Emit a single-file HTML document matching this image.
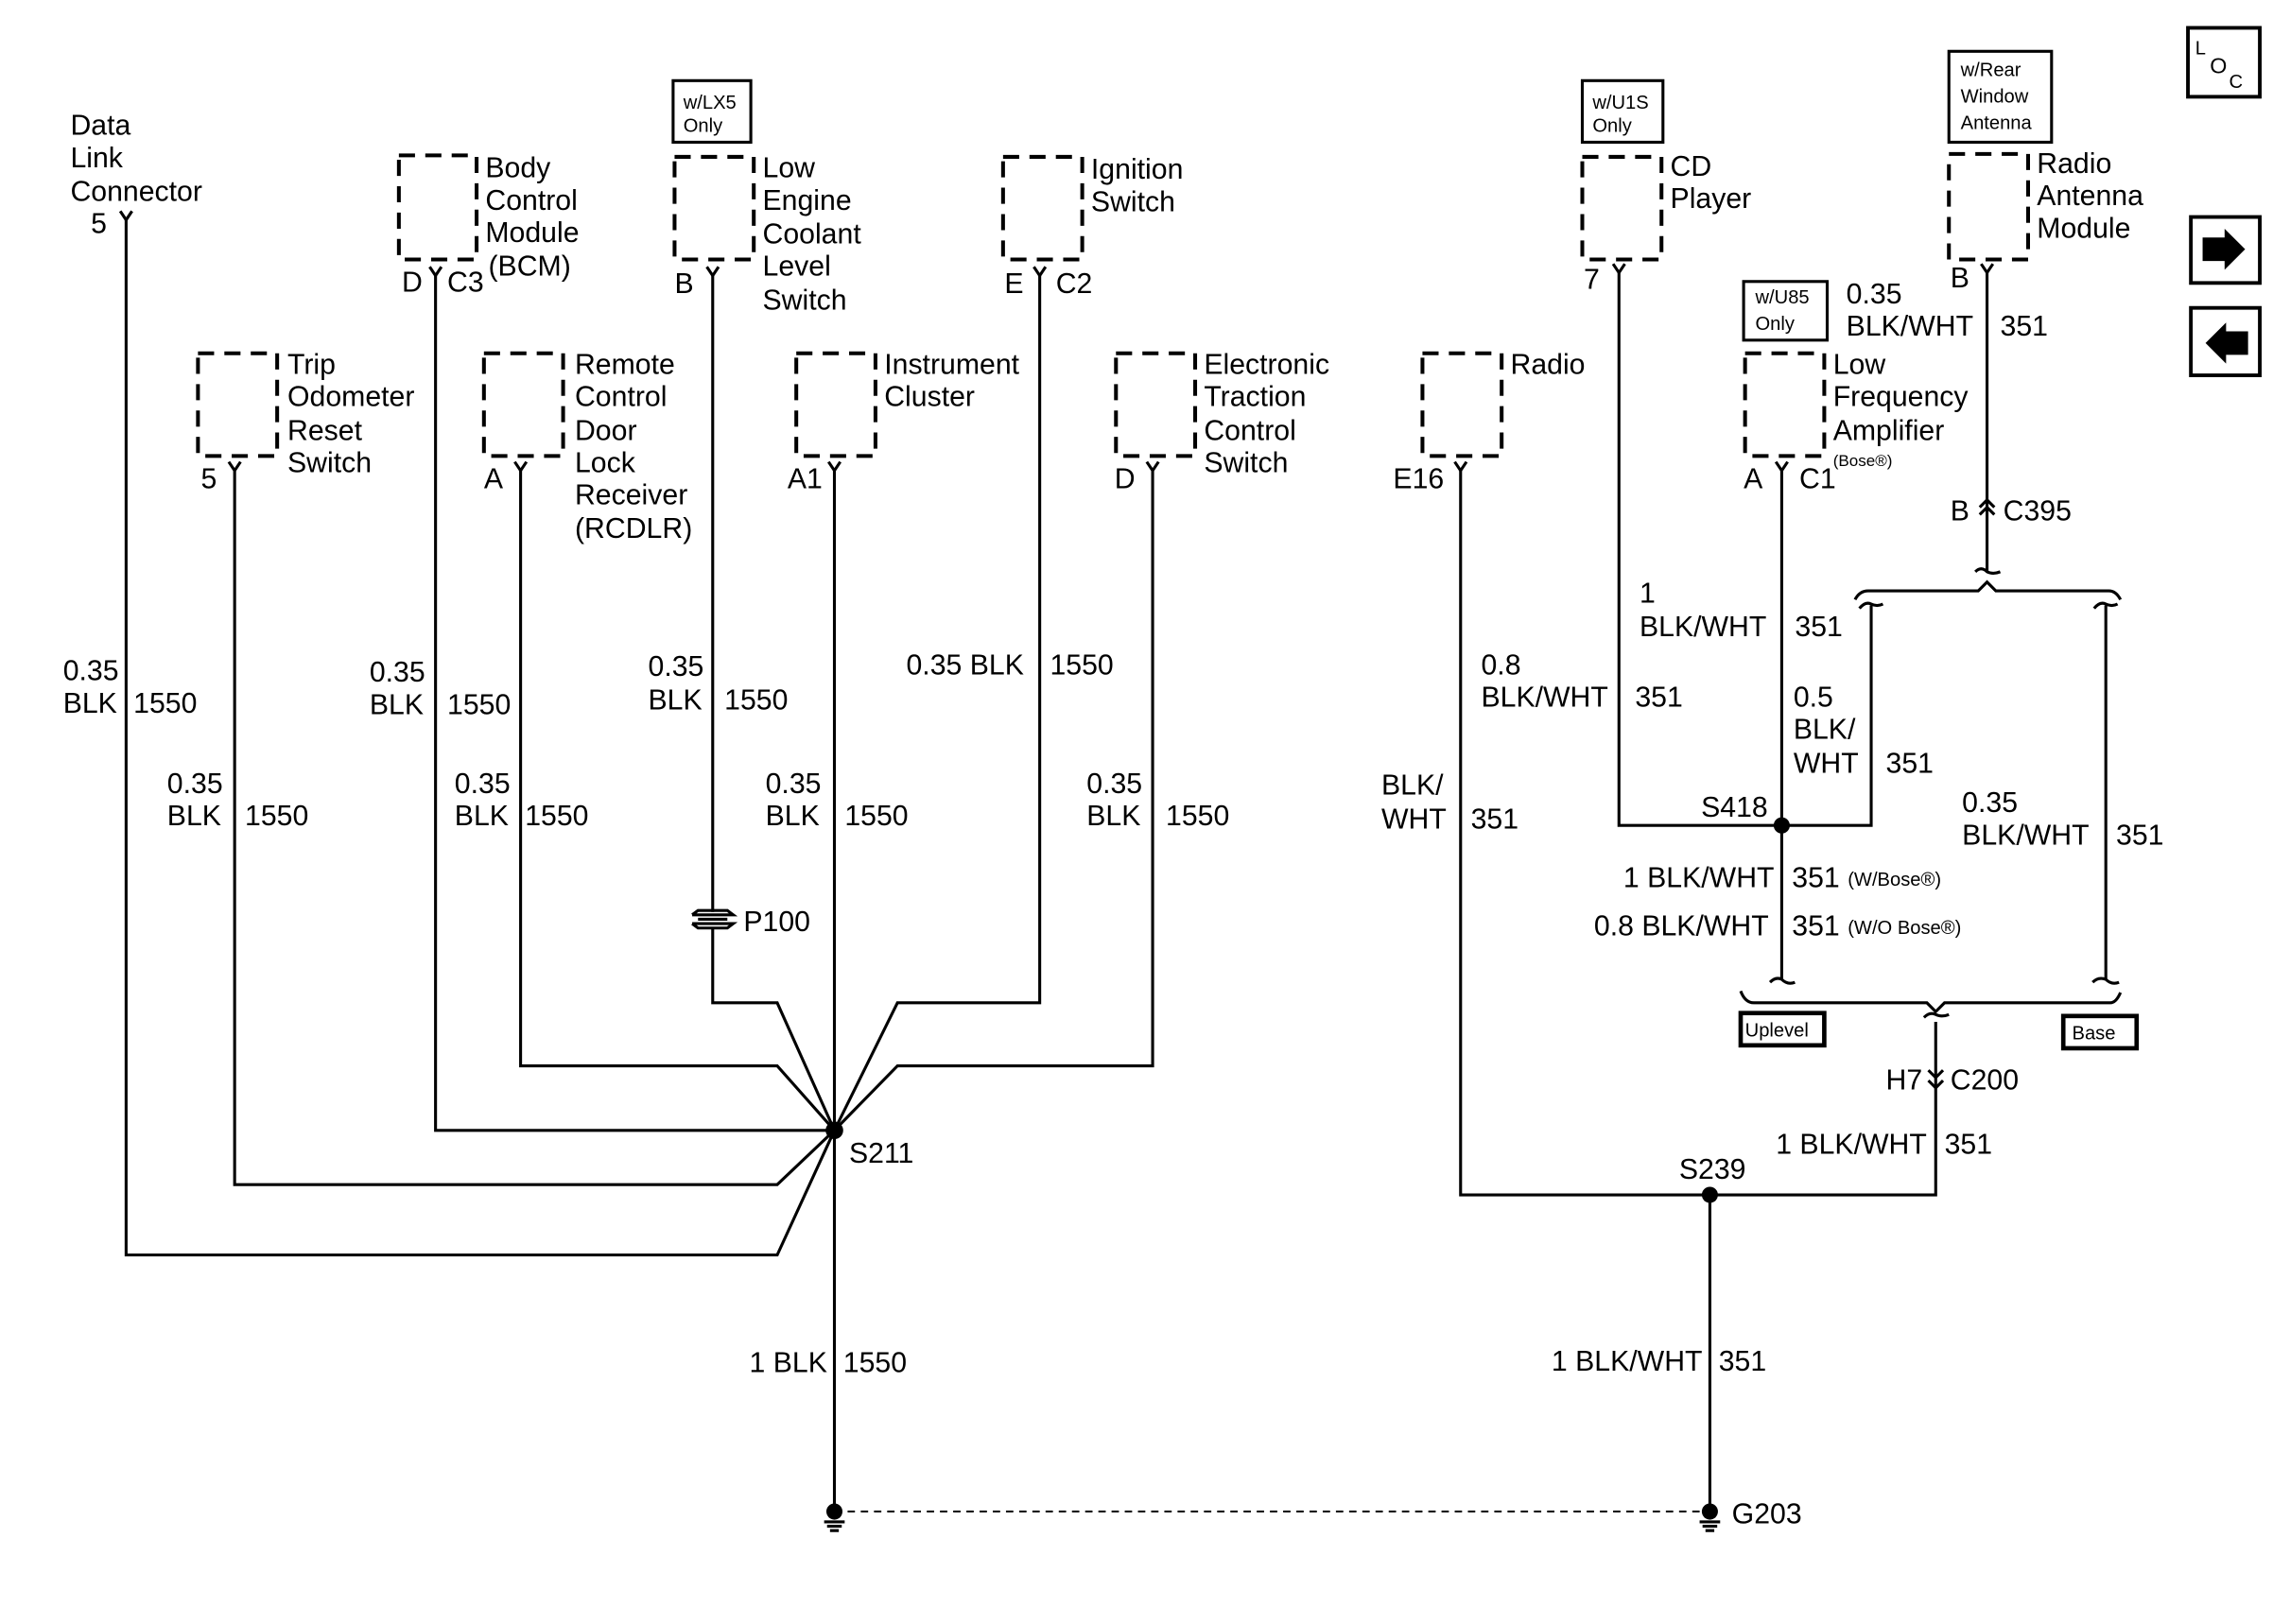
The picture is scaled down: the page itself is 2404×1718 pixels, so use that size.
<!DOCTYPE html>
<html><head><meta charset="utf-8"><style>
html,body{margin:0;padding:0;background:#fff;}
svg{display:block;}
text{font-family:"Liberation Sans",sans-serif;font-size:19.5px;fill:#000;}
.s{font-size:13px;}
.xs{font-size:11px;}
</style></head><body>
<svg width="2404" height="1718" viewBox="0 0 1550 1107.7" xmlns="http://www.w3.org/2000/svg">
<rect width="1550" height="1108" fill="#fff"/>
<g fill="none" stroke="#000" stroke-width="2">
<!-- dashed component boxes -->
<g stroke-dasharray="11,7" stroke-width="2.6">
<rect x="272" y="106" width="53" height="71"/>
<rect x="460" y="107" width="54" height="70"/>
<rect x="684" y="107" width="54" height="70"/>
<rect x="135" y="241" width="54" height="70"/>
<rect x="330" y="241" width="54" height="70"/>
<rect x="543" y="241" width="54" height="70"/>
<rect x="761" y="241" width="54" height="70"/>
<rect x="970" y="241" width="54" height="70"/>
<rect x="1079" y="107" width="54" height="70"/>
<rect x="1329" y="105" width="54" height="72"/>
<rect x="1190" y="241" width="54" height="70"/>
</g>
<!-- option boxes -->
<rect x="459" y="55" width="53" height="42"/>
<rect x="1079" y="55" width="55" height="42"/>
<rect x="1329" y="35" width="70" height="62"/>
<rect x="1189" y="192" width="57" height="40"/>
<rect x="1187" y="691" width="57" height="22" stroke-width="3"/>
<rect x="1407" y="693" width="50" height="22" stroke-width="3"/>
<!-- right icons -->
<rect x="1492" y="19" width="49" height="47" stroke-width="2.5"/>
<rect x="1494" y="148" width="47" height="45" stroke-width="2.5"/>
<rect x="1494" y="210" width="47" height="46" stroke-width="2.5"/>
<!-- left wires -->
<path d="M86 150 V856 H530 L569 771"/>
<path d="M297 188 V771 H569"/>
<path d="M486 188 V622 M486 633 V684 H530 L569 771"/>
<path d="M709 188 V684 H612 L569 771"/>
<path d="M160 321 V808 H530 L569 771"/>
<path d="M355 321 V727 H530 L569 771"/>
<path d="M569 321 V1031"/>
<path d="M786 321 V727 H612 L569 771"/>
<path d="M569 1031 H1166" stroke-dasharray="5,4" stroke-width="1.3"/>
<!-- right wires -->
<path d="M1104 186 V563 H1276 V413"/>
<path d="M996 321 V815 H1320 V697"/>
<path d="M1215 321 V668"/>
<path d="M1436 413 V668"/>
<path d="M1355 186 V390"/>
<path d="M1166 815 V1031"/>
<!-- connector Y symbols -->
<path d="M82 144 L86 150 L90 144"/>
<path d="M293 182 L297 188 L301 182"/>
<path d="M482 182 L486 188 L490 182"/>
<path d="M705 182 L709 188 L713 182"/>
<path d="M156 315 L160 321 L164 315"/>
<path d="M351 315 L355 321 L359 315"/>
<path d="M565 315 L569 321 L573 315"/>
<path d="M782 315 L786 321 L790 315"/>
<path d="M992 315 L996 321 L1000 315"/>
<path d="M1100 180 L1104 186 L1108 180"/>
<path d="M1351 180 L1355 186 L1359 180"/>
<path d="M1211 315 L1215 321 L1219 315"/>
<!-- C395 double chevron -->
<path d="M1350 346 L1355 341 L1360 346 M1350 351 L1355 346 L1360 351"/>
<!-- C200 double chevron down -->
<path d="M1315 730 L1320 735 L1325 730 M1315 737 L1320 742 L1325 737"/>
<!-- hooks -->
<path d="M1347 390 Q1351 386 1355 390 Q1359 392 1364 390"/>
<path d="M1268 415 Q1272 410 1276 412 Q1280 414 1284 412"/>
<path d="M1428 415 Q1432 410 1436 412 Q1440 414 1444 412"/>
<path d="M1207 670 Q1211 666 1215 668 Q1219 672 1224 670"/>
<path d="M1427 670 Q1431 666 1436 668 Q1440 672 1445 670"/>
<path d="M1312 694 Q1316 690 1320 692 Q1324 694 1329 692"/>
<!-- braces -->
<path d="M1265 409 Q1268 403 1274 403 L1349 403 L1355 397 L1361 403 L1438 403 Q1443 403 1446 409"/>
<path d="M1187 676 Q1190 684 1196 684 L1314 684 L1320 690 L1326 684 L1439 684 Q1443 684 1446 677"/>
<!-- P100 -->
<path d="M472 624 L476 621 H496 L500 624 H472 M472 630 L476 633 H496 L500 630 H472 M476 627 H496"/>
<!-- ground symbols -->
<path d="M562 1038 H576 M564 1041 H574 M566 1044 H572"/>
<path d="M1159 1038 H1173 M1161 1041 H1171 M1163 1044 H1169"/>
</g>
<g fill="#000">
<circle cx="569" cy="771" r="6"/>
<circle cx="1215" cy="563" r="5.5"/>
<circle cx="1166" cy="815" r="5.5"/>
<circle cx="569" cy="1031" r="5.5"/>
<circle cx="1166" cy="1031" r="5.5"/>
<path d="M1502 162 H1517 V156 L1531 170 L1517 184 V178 H1502 Z"/>
<path d="M1533 226 H1518 V220 L1504 234 L1518 248 V242 H1533 Z"/>
</g>
<!-- LOC -->
<text x="1497" y="37" class="s">L</text>
<text x="1507" y="50" style="font-size:15px">O</text>
<text x="1520" y="60" class="s">C</text>

<!-- text left -->
<text x="48" y="92">Data</text><text x="48" y="114">Link</text><text x="48" y="137">Connector</text>
<text x="62" y="159">5</text>
<text x="331" y="121">Body</text><text x="331" y="143">Control</text><text x="331" y="165">Module</text><text x="333" y="188">(BCM)</text>
<text x="274" y="199">D</text><text x="305" y="199">C3</text>
<text x="466" y="74" class="s">w/LX5</text><text x="466" y="90" class="s">Only</text>
<text x="520" y="121">Low</text><text x="520" y="143">Engine</text><text x="520" y="166">Coolant</text><text x="520" y="188">Level</text><text x="520" y="211">Switch</text>
<text x="460" y="200">B</text>
<text x="744" y="122">Ignition</text><text x="744" y="144">Switch</text>
<text x="685" y="200">E</text><text x="720" y="200">C2</text>
<text x="196" y="255">Trip</text><text x="196" y="277">Odometer</text><text x="196" y="300">Reset</text><text x="196" y="322">Switch</text>
<text x="137" y="333">5</text>
<text x="392" y="255">Remote</text><text x="392" y="277">Control</text><text x="392" y="300">Door</text><text x="392" y="322">Lock</text><text x="392" y="344">Receiver</text><text x="392" y="367">(RCDLR)</text>
<text x="330" y="333">A</text>
<text x="603" y="255">Instrument</text><text x="603" y="277">Cluster</text>
<text x="537" y="333">A1</text>
<text x="821" y="255">Electronic</text><text x="821" y="277">Traction</text><text x="821" y="300">Control</text><text x="821" y="322">Switch</text>
<text x="760" y="333">D</text>
<text x="43" y="464">0.35</text><text x="43" y="486">BLK</text><text x="91" y="486">1550</text>
<text x="252" y="465">0.35</text><text x="252" y="487">BLK</text><text x="305" y="487">1550</text>
<text x="442" y="461">0.35</text><text x="442" y="484">BLK</text><text x="494" y="484">1550</text>
<text x="618" y="460">0.35 BLK</text><text x="716" y="460">1550</text>
<text x="114" y="541">0.35</text><text x="114" y="563">BLK</text><text x="167" y="563">1550</text>
<text x="310" y="541">0.35</text><text x="310" y="563">BLK</text><text x="358" y="563">1550</text>
<text x="522" y="541">0.35</text><text x="522" y="563">BLK</text><text x="576" y="563">1550</text>
<text x="741" y="541">0.35</text><text x="741" y="563">BLK</text><text x="795" y="563">1550</text>
<text x="507" y="635">P100</text>
<text x="579" y="793">S211</text>
<text x="511" y="936">1 BLK</text><text x="575" y="936">1550</text>
<!-- text right -->
<text x="1086" y="74" class="s">w/U1S</text><text x="1086" y="90" class="s">Only</text>
<text x="1139" y="120">CD</text><text x="1139" y="142">Player</text>
<text x="1080" y="197">7</text>
<text x="1337" y="52" class="s">w/Rear</text><text x="1337" y="70" class="s">Window</text><text x="1337" y="88" class="s">Antenna</text>
<text x="1389" y="118">Radio</text><text x="1389" y="140">Antenna</text><text x="1389" y="162">Module</text>
<text x="1330" y="196">B</text>
<text x="1259" y="207">0.35</text><text x="1259" y="229">BLK/WHT</text><text x="1364" y="229">351</text>
<text x="1197" y="207" class="s">w/U85</text><text x="1197" y="225" class="s">Only</text>
<text x="1250" y="255">Low</text><text x="1250" y="277">Frequency</text><text x="1250" y="300">Amplifier</text>
<text x="1250" y="318" class="xs">(Bose®)</text>
<text x="1189" y="333">A</text><text x="1227" y="333">C1</text>
<text x="1030" y="255">Radio</text>
<text x="950" y="333">E16</text>
<text x="1330" y="355">B</text><text x="1366" y="355">C395</text>
<text x="1118" y="411">1</text><text x="1118" y="434">BLK/WHT</text><text x="1224" y="434">351</text>
<text x="1010" y="460">0.8</text><text x="1010" y="482">BLK/WHT</text><text x="1115" y="482">351</text>
<text x="1223" y="482">0.5</text><text x="1223" y="504">BLK/</text><text x="1223" y="527">WHT</text><text x="1286" y="527">351</text>
<text x="942" y="542">BLK/</text><text x="942" y="565">WHT</text><text x="1003" y="565">351</text>
<text x="1160" y="557">S418</text>
<text x="1338" y="554">0.35</text><text x="1338" y="576">BLK/WHT</text><text x="1443" y="576">351</text>
<text x="1107" y="605">1 BLK/WHT</text><text x="1222" y="605">351</text><text x="1260" y="604" class="s">(W/Bose®)</text>
<text x="1087" y="638">0.8 BLK/WHT</text><text x="1222" y="638">351</text><text x="1260" y="637" class="s">(W/O Bose®)</text>
<text x="1190" y="707" class="s">Uplevel</text>
<text x="1413" y="709" class="s">Base</text>
<text x="1286" y="743">H7</text><text x="1330" y="743">C200</text>
<text x="1211" y="787">1 BLK/WHT</text><text x="1326" y="787">351</text>
<text x="1145" y="804">S239</text>
<text x="1058" y="935">1 BLK/WHT</text><text x="1172" y="935">351</text>
<text x="1181" y="1039">G203</text>
</svg>
</body></html>
